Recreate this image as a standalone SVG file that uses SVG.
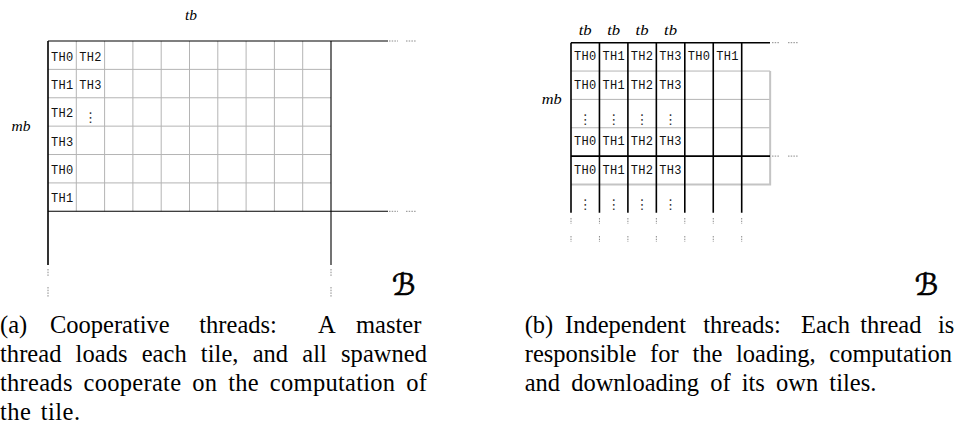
<svg xmlns="http://www.w3.org/2000/svg" width="956" height="428" viewBox="0 0 956 428">
<style>
.bg{fill:#fff}
.gl{stroke:#b4b4b4;stroke-width:1;fill:none}
.gb{stroke:#c4c4c4;stroke-width:2;fill:none}
.bk{stroke:#000;stroke-width:1.1;fill:none}
.bk2{stroke:#000;stroke-width:1.6;fill:none}
.dt{stroke:#8a8a8a;stroke-width:1;fill:none;stroke-dasharray:1.5 1.2}
.th{font-family:"Liberation Mono","DejaVu Sans Mono",monospace;font-size:12px;fill:#111;text-anchor:middle;letter-spacing:0.3px}
.el{font-family:"DejaVu Sans",sans-serif;font-size:13.5px;fill:#333;text-anchor:middle}
.mi{font-family:"Liberation Serif",serif;font-style:italic;font-size:14px;fill:#000;text-anchor:middle}
.cal{font-family:"DejaVu Serif","DejaVu Sans",serif;font-style:italic;font-size:30px;fill:#000;stroke:#000;stroke-width:0.7}
.cap{font-family:"Liberation Serif",serif;font-size:24.5px;fill:#000}
</style>
<rect class="bg" x="0" y="0" width="956" height="428"/>

<g id="panel-a">
  <g id="grid-a">
    <path class="gl" d="M76.3 41V211.3M104.6 41V211.3M132.9 41V211.3M161.2 41V211.3M189.5 41V211.3M217.8 41V211.3M246.1 41V211.3M274.4 41V211.3M302.7 41V211.3"/>
    <path class="gl" d="M48 69.38H331M48 97.77H331M48 126.15H331M48 154.53H331M48 182.92H331"/>
    <path class="bk" d="M48 41H388M48 211.3H388M331 41V265"/>
    <path class="bk2" d="M48 41V265"/>
    <path class="dt" d="M389 41H398M406 41H416M389 211.3H398M406 211.3H416M48 269V277M48 287V297M331 269V277M331 287V297"/>
  </g>
  <g id="labels-a">
    <text class="th" x="62.2" y="60.5">TH0</text>
    <text class="th" x="62.2" y="88.9">TH1</text>
    <text class="th" x="62.2" y="117.3">TH2</text>
    <text class="th" x="62.2" y="145.7">TH3</text>
    <text class="th" x="62.2" y="174">TH0</text>
    <text class="th" x="62.2" y="202.4">TH1</text>
    <text class="th" x="90.5" y="60.5">TH2</text>
    <text class="th" x="90.5" y="88.9">TH3</text>
    <text class="el" x="90.5" y="122">⋮</text>
    <text class="mi" x="191" y="19.5" textLength="12" lengthAdjust="spacingAndGlyphs">tb</text>
    <text class="mi" x="21" y="131" textLength="19" lengthAdjust="spacingAndGlyphs">mb</text>
    <text class="cal" x="392" y="295">ℬ</text>
  </g>
</g>

<g id="panel-b">
  <g id="grid-b">
    <path class="gl" d="M571 71.05H770.15M571 99.4H770.15M571 127.75H770.15"/>
    <path class="gb" d="M571 184.45H770.15V71.05"/>
    <path class="bk2" d="M571 42.7H770M571 156.1H770"/>
    <path class="bk2" d="M571 42.7V212.8M599.45 42.7V212.8M627.9 42.7V212.8M656.35 42.7V212.8M684.8 42.7V212.8M713.25 42.7V212.8M741.7 42.7V212.8"/>
    <path class="dt" d="M772 42.7H780M788 42.7H798M772 156.1H780M788 156.1H798"/>
    <path class="dt" d="M571 218V224M571 236V242M599.45 218V224M599.45 236V242M627.9 218V224M627.9 236V242M656.35 218V224M656.35 236V242M684.8 218V224M684.8 236V242M713.25 218V224M713.25 236V242M741.7 218V224M741.7 236V242"/>
  </g>
  <g id="labels-b">
    <text class="mi" x="585.2" y="35" textLength="13" lengthAdjust="spacingAndGlyphs">tb</text>
    <text class="mi" x="613.7" y="35" textLength="13" lengthAdjust="spacingAndGlyphs">tb</text>
    <text class="mi" x="642.1" y="35" textLength="13" lengthAdjust="spacingAndGlyphs">tb</text>
    <text class="mi" x="670.6" y="35" textLength="13" lengthAdjust="spacingAndGlyphs">tb</text>
    <text class="mi" x="551.7" y="103.5" textLength="20" lengthAdjust="spacingAndGlyphs">mb</text>

    <text class="th" x="585.2" y="60.2">TH0</text>
    <text class="th" x="613.7" y="60.2">TH1</text>
    <text class="th" x="642.1" y="60.2">TH2</text>
    <text class="th" x="670.6" y="60.2">TH3</text>
    <text class="th" x="699" y="60.2">TH0</text>
    <text class="th" x="727.5" y="60.2">TH1</text>

    <text class="th" x="585.2" y="88.6">TH0</text>
    <text class="th" x="613.7" y="88.6">TH1</text>
    <text class="th" x="642.1" y="88.6">TH2</text>
    <text class="th" x="670.6" y="88.6">TH3</text>

    <text class="el" x="585.2" y="123.5">⋮</text>
    <text class="el" x="613.7" y="123.5">⋮</text>
    <text class="el" x="642.1" y="123.5">⋮</text>
    <text class="el" x="670.6" y="123.5">⋮</text>

    <text class="th" x="585.2" y="145.3">TH0</text>
    <text class="th" x="613.7" y="145.3">TH1</text>
    <text class="th" x="642.1" y="145.3">TH2</text>
    <text class="th" x="670.6" y="145.3">TH3</text>

    <text class="th" x="585.2" y="173.6">TH0</text>
    <text class="th" x="613.7" y="173.6">TH1</text>
    <text class="th" x="642.1" y="173.6">TH2</text>
    <text class="th" x="670.6" y="173.6">TH3</text>

    <text class="el" x="585.2" y="208.5">⋮</text>
    <text class="el" x="613.7" y="208.5">⋮</text>
    <text class="el" x="642.1" y="208.5">⋮</text>
    <text class="el" x="670.6" y="208.5">⋮</text>

    <text class="cal" x="914.7" y="295">ℬ</text>
  </g>
</g>

<g id="caption-a">
  <text class="cap" y="333"><tspan x="0">(a)</tspan><tspan x="50">Cooperative</tspan><tspan x="199.3">threads:</tspan><tspan x="318">A</tspan><tspan x="356">master</tspan></text>
  <text class="cap" x="0" y="362" word-spacing="8" textLength="427" lengthAdjust="spacing">thread loads each tile, and all spawned</text>
  <text class="cap" x="0" y="391" word-spacing="4.5" textLength="427" lengthAdjust="spacing">threads cooperate on the computation of</text>
  <text class="cap" x="0" y="419.5" word-spacing="3" textLength="80" lengthAdjust="spacing">the tile.</text>
</g>

<g id="caption-b">
  <text class="cap" y="333"><tspan x="524.7">(b)</tspan><tspan x="565">Independent</tspan><tspan x="703.3">threads:</tspan><tspan x="801">Each</tspan><tspan x="860.2">thread</tspan><tspan x="938">is</tspan></text>
  <text class="cap" x="524.7" y="362" word-spacing="7.5" textLength="427.3" lengthAdjust="spacing">responsible for the loading, computation</text>
  <text class="cap" x="524.7" y="390.5" word-spacing="5" textLength="351.6" lengthAdjust="spacing">and downloading of its own tiles.</text>
</g>
</svg>
